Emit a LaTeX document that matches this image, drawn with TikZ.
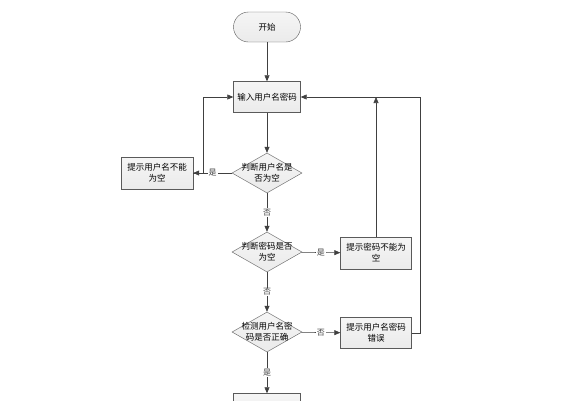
\documentclass[tikz,border=0pt]{standalone}
\usepackage{fontspec}
\setmainfont{Noto Sans CJK SC}
\usepackage{tikz}
\usetikzlibrary{arrows.meta,shapes.geometric}
\definecolor{fc-line}{HTML}{404040}
\definecolor{fc-edge}{HTML}{5A5A5A}
\definecolor{fc-fill}{HTML}{EBEBEB}

\tikzset{
    box/.style={draw=fc-edge, rectangle, top color=fc-fill!50, bottom color=fc-fill,
        minimum width=67pt, minimum height=31pt, inner sep=1pt, align=center},
    terminal/.style={box, rounded corners=15pt, minimum height=30pt},
    decision/.style={draw=fc-edge, diamond, top color=fc-fill!50, bottom color=fc-fill,
        minimum width=70pt, minimum height=40pt, inner sep=0pt},
    arr/.style={-{Triangle[length=6pt,width=5pt]}, fc-line, line width=0.6pt},
    plain/.style={fc-line, line width=0.6pt},
    tag/.style={fill=white, inner sep=1pt, font=\fontsize{8}{9}\selectfont},
}

\begin{document}
\begin{tikzpicture}[x=1pt, y=-1pt, font=\fontsize{8.5}{11}\selectfont]
    \useasboundingbox (0,0) rectangle (564,400);
    \clip (0,0) rectangle (564,400);
    % main column
    \node[terminal] (start) at (267,27) {开始};
    \node[box] (input) at (267,97) {输入用户名密码};
    \node[decision, label={[align=center]center:判断用户名是\\否为空}] (userempty) at (267,173) {};
    \node[decision, label={[align=center]center:判断密码是否\\为空}] (pwdempty) at (267,252) {};
    \node[decision, label={[align=center]center:检测用户名密\\码是否正确}] (check) at (267,332) {};
    \node[box] (done) at (267,409) {};
    % messages
    \node[box, minimum width=72pt, minimum height=32pt] (usermsg) at (157,173) {提示用户名不能\\为空};
    \node[box, minimum width=71pt, minimum height=32pt] (pwdmsg) at (376,253) {提示密码不能为\\空};
    \node[box, minimum width=71pt, minimum height=31pt] (errmsg) at (376,333) {提示用户名密码\\错误};
    % flow
    \draw[arr] (start) -- (input);
    \draw[arr] (input) -- (userempty);
    \draw[arr] (userempty) -- node[tag] {否} (pwdempty);
    \draw[arr] (pwdempty) -- node[tag] {否} (check);
    \draw[arr] (check) -- node[tag] {是} (done);
    \draw[arr] (userempty) -- node[tag] {是} (usermsg);
    \draw[arr] (pwdempty) -- node[tag] {是} (pwdmsg);
    \draw[arr] (check) -- node[tag] {否} (errmsg);
    % back to input
    \draw[arr] (usermsg.east) -- ++(10,0) |- (input.west);
    \draw[arr] (pwdmsg.north) -- (pwdmsg.north |- input.east);
    \draw[arr] (errmsg.east) -- ++(9,0) |- (input.east);
\end{tikzpicture}
\end{document}
